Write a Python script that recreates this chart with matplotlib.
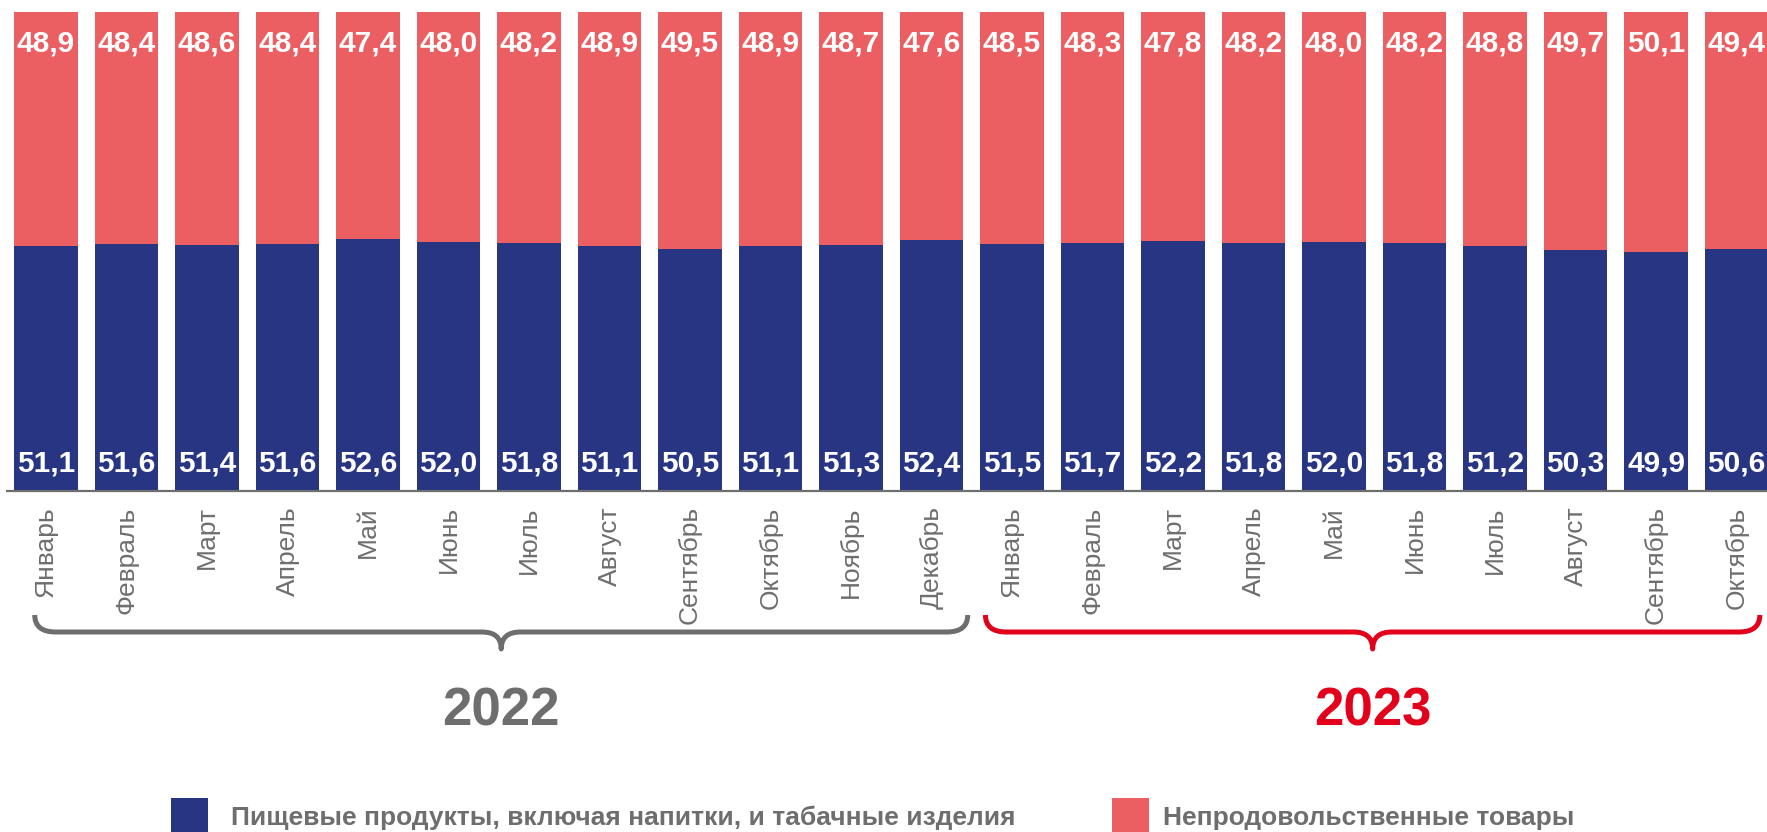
import matplotlib
matplotlib.use("Agg")
import matplotlib.pyplot as plt
from matplotlib.path import Path
from matplotlib.patches import PathPatch, Rectangle
import numpy as np

plt.rcParams['font.family'] = ['Liberation Sans', 'DejaVu Sans']

months = ["Январь", "Февраль", "Март", "Апрель", "Май", "Июнь", "Июль", "Август",
          "Сентябрь", "Октябрь", "Ноябрь", "Декабрь",
          "Январь", "Февраль", "Март", "Апрель", "Май", "Июнь", "Июль", "Август",
          "Сентябрь", "Октябрь"]
food = [51.1, 51.6, 51.4, 51.6, 52.6, 52.0, 51.8, 51.1, 50.5, 51.1, 51.3, 52.4,
        51.5, 51.7, 52.2, 51.8, 52.0, 51.8, 51.2, 50.3, 49.9, 50.6]
nonfood = [48.9, 48.4, 48.6, 48.4, 47.4, 48.0, 48.2, 48.9, 49.5, 48.9, 48.7, 47.6,
           48.5, 48.3, 47.8, 48.2, 48.0, 48.2, 48.8, 49.7, 50.1, 49.4]
years = ["2022", "2023"]
year_counts = [12, 10]
series_names = ["Пищевые продукты, включая напитки, и табачные изделия",
                "Непродовольственные товары"]

BLUE = "#283583"
SALMON = "#EB5F62"
GRAY = "#6E6E6E"
RED = "#E2001A"

W, H = 1767, 832
PITCH, X0 = 80.5, 46
fig = plt.figure(figsize=(W / 100, H / 100), dpi=100)
ax = fig.add_axes([0, 1 - 491 / H, 1, 479 / H])

x = np.arange(len(months))
ax.bar(x, food, width=0.795, color=BLUE, zorder=2)
ax.bar(x, nonfood, bottom=food, width=0.795, color=SALMON, zorder=2)

ax.set_xlim(-X0 / PITCH, (W - X0) / PITCH)
ax.set_ylim(0, 100)
for s in ax.spines.values():
    s.set_visible(False)
ax.set_yticks([])
ax.set_xticks(x)
ax.set_xticklabels(months, rotation=90, fontsize=19, color=GRAY)
ax.tick_params(axis='x', length=0, pad=11)
ax.hlines(0, -0.5, len(months), color=GRAY, lw=1.6, zorder=3, clip_on=False)

fmt = lambda v: f"{v:.1f}".replace(".", ",")
for xi, f, n in zip(x, food, nonfood):
    ax.annotate(fmt(f), (xi, 0), xytext=(0, 27 * 0.72), textcoords='offset points',
                ha='center', va='center', color='white', fontsize=21.5, fontweight='bold', zorder=4)
    ax.annotate(fmt(n), (xi, f + n), xytext=(0, -31 * 0.72), textcoords='offset points',
                ha='center', va='center', color='white', fontsize=21.5, fontweight='bold', zorder=4)

# overlay axes for braces (x in bar units, y in pixels from top)
ov = fig.add_axes([0, 0, 1, 1])
ov.set_xlim(ax.get_xlim())
ov.set_ylim(H, 0)
ov.axis('off')

def brace(x0, x1, xm, color):
    rx = 0.26
    rm = 0.24
    ytip, yl, ycusp = 615, 632, 649
    verts = [(x0, ytip), (x0, yl), (x0 + rx, yl),
             (xm - rm, yl), (xm, yl), (xm, ycusp),
             (xm, yl), (xm + rm, yl),
             (x1 - rx, yl), (x1, yl), (x1, ytip)]
    codes = [Path.MOVETO, Path.CURVE3, Path.CURVE3,
             Path.LINETO, Path.CURVE3, Path.CURVE3,
             Path.CURVE3, Path.CURVE3,
             Path.LINETO, Path.CURVE3, Path.CURVE3]
    ov.add_patch(PathPatch(Path(verts, codes), fill=False, edgecolor=color, lw=3.6,
                           capstyle='butt', joinstyle='round'))

start = 0
for yr, cnt, col in zip(years, year_counts, [GRAY, RED]):
    end = start + cnt - 1
    if start == 0:
        x0, x1 = start - 0.14, end + 0.45
    else:
        x0, x1 = start - 0.33, end + 0.29
    xm = (x0 + x1) / 2
    brace(x0, x1, xm, col)
    ov.text(xm, 712, yr, ha='center', va='center', fontsize=38, fontweight='bold', color=col)
    start += cnt

# legend
for (px, tx, name, col) in [(171, 231, series_names[0], BLUE), (1112, 1163, series_names[1], SALMON)]:
    ov.add_patch(Rectangle(((px - X0) / PITCH, 798), 37 / PITCH, 40, facecolor=col,
                           edgecolor='none', clip_on=False))
    fig.text(tx / W, 1 - 825 / H, name, ha='left', va='baseline', fontsize=19,
             fontweight='bold', color=GRAY)

fig.savefig("out.png", dpi=100)
